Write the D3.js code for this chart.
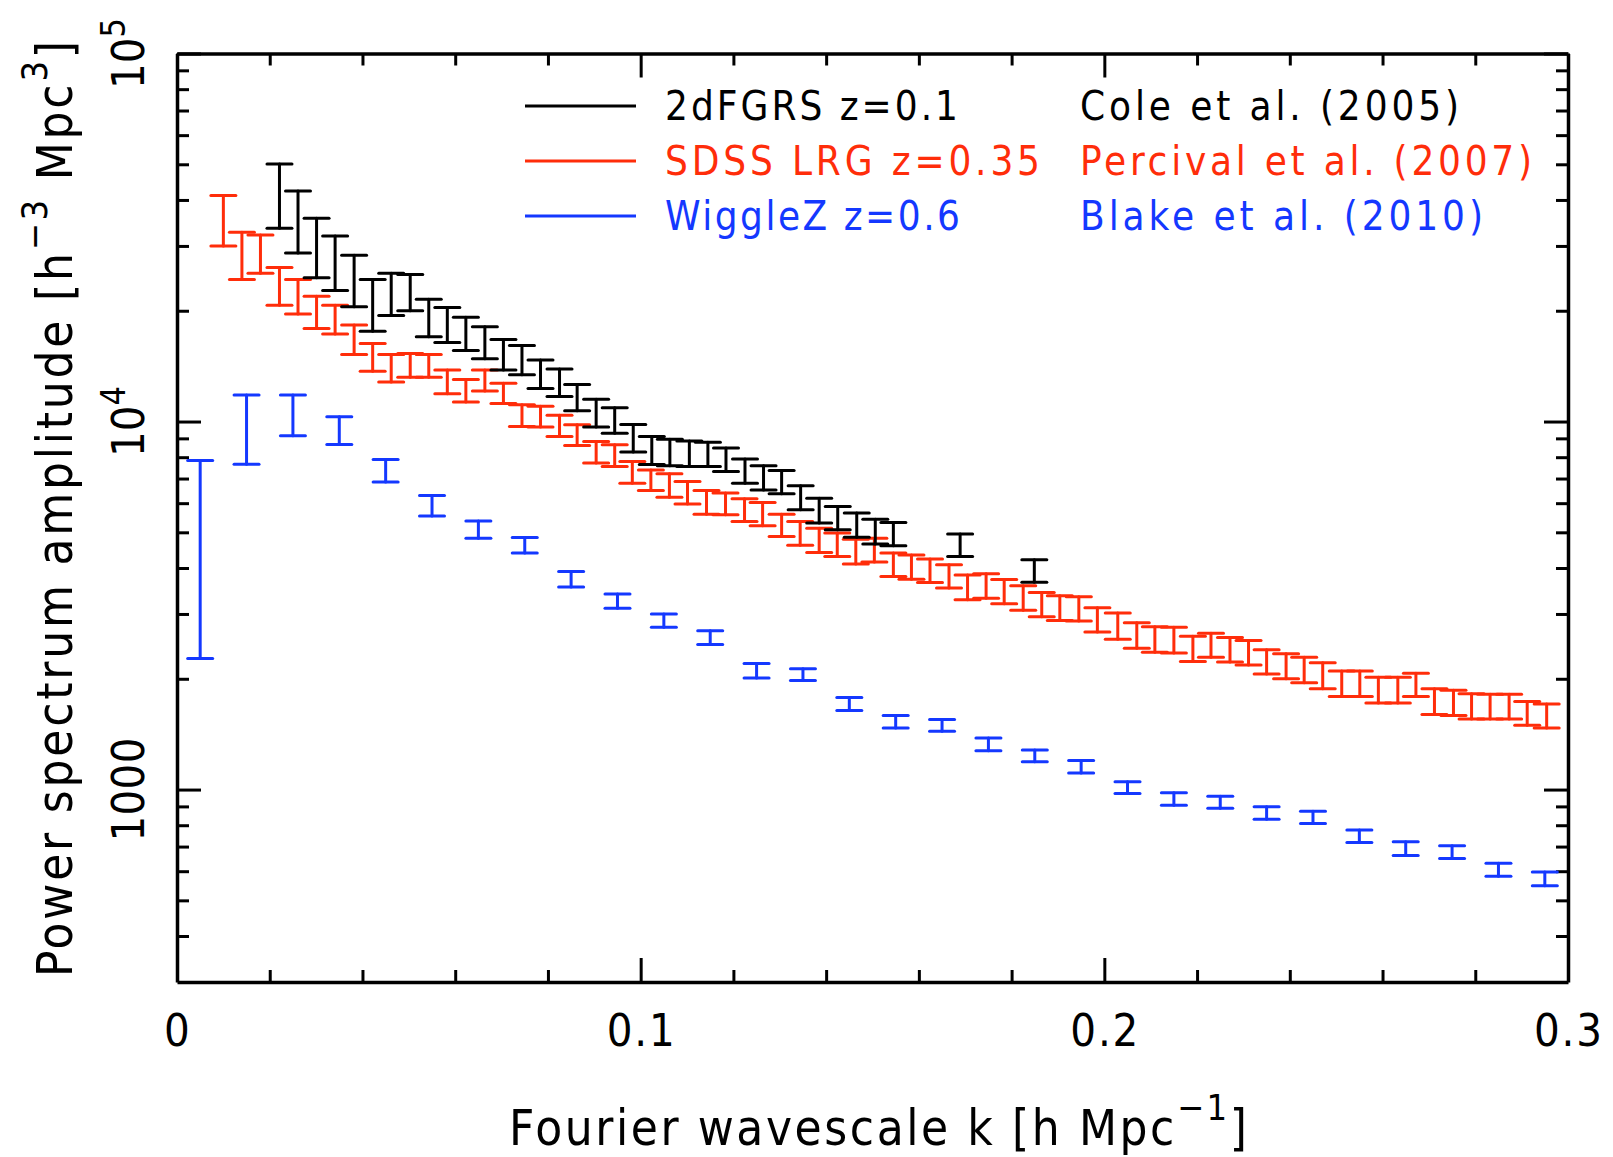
<!DOCTYPE html>
<html>
<head>
<meta charset="utf-8">
<script src="https://cdn.jsdelivr.net/npm/d3@7"></script>
<style>
  body { margin: 0; background: #fff; }
  text { font-family: "DejaVu Sans Condensed", "Liberation Sans Narrow", "DejaVu Sans", sans-serif; }
</style>
</head>
<body>
<svg id="chart" width="1613" height="1157"></svg>
<script>
'use strict';

// 2dFGRS z=0.1 (Cole et al. 2005)
var coleK  = [0.0221,0.0261,0.0301,0.0341,0.0382,0.0422,0.0462,0.0503,0.0543,0.0583,0.0623,0.0664,0.0704,0.0744,0.0784,0.0825,0.0863,0.0904,0.0944,0.0984,0.1024,0.1063,0.1105,0.1145,0.1184,0.1225,0.1265,0.1304,0.1345,0.1385,0.1425,0.1466,0.1506,0.1545,0.1689,0.1849];
var coleHi = [50100,42300,35700,31900,28300,24300,25300,25100,21500,20400,19200,18100,16700,16100,14700,13900,12600,11500,10900,9810,9110,8950,8860,8790,8470,7910,7580,7360,6690,6190,5880,5640,5430,5320,4950,4210];
var coleLo = [33500,28700,24600,22700,20500,17600,19400,20000,17000,16400,15600,14800,13800,13400,12300,11700,10700,9660,9300,8270,7640,7580,7550,7550,7310,6800,6520,6360,5760,5300,5080,4850,4650,4600,4300,3660];

// SDSS LRG z=0.35 (Percival et al. 2007)
var percK  = [0.0100,0.0140,0.0180,0.0221,0.0261,0.0301,0.0341,0.0382,0.0422,0.0462,0.0503,0.0543,0.0583,0.0623,0.0664,0.0704,0.0744,0.0784,0.0825,0.0863,0.0904,0.0944,0.0982,0.1022,0.1062,0.1101,0.1142,0.1183,0.1224,0.1263,0.1304,0.1344,0.1385,0.1424,0.1464,0.1504,0.1545,0.1584,0.1624,0.1665,0.1705,0.1745,0.1784,0.1825,0.1865,0.1904,0.1945,0.1985,0.2029,0.2070,0.2109,0.2150,0.2191,0.2230,0.2271,0.2311,0.2350,0.2392,0.2431,0.2471,0.2512,0.2551,0.2591,0.2633,0.2672,0.2712,0.2753,0.2792,0.2832,0.2873,0.2912,0.2954];
var percHi = [41100,32700,32100,26200,24300,21900,20700,18300,16300,15200,15300,15200,13800,13000,13800,12700,11100,11000,10400,9800,8820,8650,7790,7390,7210,6870,6500,6390,6170,6030,5600,5350,5130,4980,4790,4820,4390,4340,4230,4080,3830,3860,3720,3580,3430,3360,3340,3120,3020,2840,2770,2760,2610,2660,2590,2540,2400,2340,2290,2210,2100,2100,2020,2020,2070,1880,1860,1820,1815,1815,1736,1708];
var percLo = [30000,24300,25300,20700,19600,17900,17300,15200,13700,12800,13200,13200,11900,11300,12100,11200,9690,9660,9110,8610,7710,7550,6800,6500,6230,5970,5600,5580,5350,5210,4870,4610,4410,4300,4100,4150,3790,3730,3650,3530,3280,3310,3200,3070,2950,2880,2870,2680,2560,2420,2360,2350,2230,2290,2220,2180,2060,2000,1950,1880,1790,1790,1720,1720,1790,1600,1590,1555,1555,1555,1495,1470];

// WiggleZ z=0.6 (Blake et al. 2010)
var blakeK  = [0.005,0.015,0.025,0.035,0.045,0.055,0.065,0.075,0.085,0.095,0.105,0.115,0.125,0.135,0.145,0.155,0.165,0.175,0.185,0.195,0.205,0.215,0.225,0.235,0.245,0.255,0.265,0.275,0.285,0.295];
var blakeHi = [7840,11800,11800,10300,7880,6300,5370,4840,3910,3400,3000,2700,2200,2130,1780,1590,1550,1380,1280,1200,1050,981,959,898,873,776,722,704,631,597];
var blakeLo = [2270,7650,9150,8660,6850,5540,4820,4390,3550,3110,2760,2480,2010,1980,1640,1470,1440,1275,1190,1110,975,907,890,831,809,718,662,650,581,548];

var surveys = ["2dFGRS z=0.1", "SDSS LRG z=0.35", "WiggleZ z=0.6"];
var papers  = ["Cole et al. (2005)", "Percival et al. (2007)", "Blake et al. (2010)"];
var colors  = ["#000000", "#ff2d0a", "#1438ff"];

var xMajor = [0, 0.1, 0.2, 0.3];
var xMinor = [0.02, 0.04, 0.06, 0.08, 0.12, 0.14, 0.16, 0.18, 0.22, 0.24, 0.26, 0.28];
var yMajor = [1000, 10000, 100000];
var yMinor = [400, 500, 600, 700, 800, 900, 2000, 3000, 4000, 5000, 6000, 7000, 8000, 9000,
              20000, 30000, 40000, 50000, 60000, 70000, 80000, 90000];
var yLabels = [["1000", ""], ["10", "4"], ["10", "5"]];

// widths of the (wide, stroke-font) original texts
var surveyWidth = [293, 375, 295];
var paperWidth  = [379, 452, 403];

var box = {left: 177, right: 1568, top: 53.5, bottom: 982};
var svg = d3.select("#chart");

var x = d3.scaleLinear().domain([0, 0.3]).range([box.left, box.right]);
var y = d3.scaleLog().domain([300, 1e5]).range([box.bottom, box.top]);

// frame with inward ticks on all four sides
function side(axisFn, scale, transform, values, size, keepDomain) {
  var g = svg.append("g").attr("transform", transform)
    .call(axisFn(scale).tickValues(values).tickSize(size).tickSizeOuter(0).tickFormat(""));
  g.selectAll(".tick line").attr("stroke-width", 3);
  if (keepDomain) g.select(".domain").attr("stroke-width", 3.5);
  else g.select(".domain").remove();
}
side(d3.axisBottom, x, `translate(0,${box.bottom})`, xMajor, -24, true);
side(d3.axisBottom, x, `translate(0,${box.bottom})`, xMinor, -12, false);
side(d3.axisTop, x, `translate(0,${box.top})`, xMajor, -24, true);
side(d3.axisTop, x, `translate(0,${box.top})`, xMinor, -12, false);
side(d3.axisLeft, y, `translate(${box.left},0)`, yMajor, -24, true);
side(d3.axisLeft, y, `translate(${box.left},0)`, yMinor, -12, false);
side(d3.axisRight, y, `translate(${box.right},0)`, yMajor, -24, true);
side(d3.axisRight, y, `translate(${box.right},0)`, yMinor, -12, false);

// tick labels
svg.append("g").selectAll("text").data(xMajor).join("text")
  .attr("x", d => x(d)).attr("y", 1046)
  .attr("text-anchor", "middle").attr("font-size", 45)
  .attr("textLength", d => d === 0 ? null : 68)
  .attr("lengthAdjust", "spacing")
  .text(d => d === 0 ? "0" : String(d));

var yl = svg.append("g").selectAll("text").data(yMajor).join("text")
  .attr("transform", d => `translate(144,${y(d)}) rotate(-90)`)
  .attr("text-anchor", "middle").attr("font-size", 45)
  .attr("textLength", (d, i) => yLabels[i][1] ? null : 104)
  .attr("lengthAdjust", "spacing");
yl.append("tspan").text((d, i) => yLabels[i][0]);
yl.filter((d, i) => yLabels[i][1] !== "")
  .append("tspan").attr("font-size", 34).attr("dy", "-0.55em").text(d => yLabels[yMajor.indexOf(d)][1]);

// axis titles
var xt = svg.append("text").attr("x", 878).attr("y", 1145)
  .attr("text-anchor", "middle").attr("font-size", 49)
  .attr("textLength", 738).attr("lengthAdjust", "spacing");
xt.append("tspan").text("Fourier wavescale k [h Mpc");
xt.append("tspan").attr("font-size", 36).attr("dy", -25).text("\u22121");
xt.append("tspan").attr("dy", 25).text("]");

var yt = svg.append("text").attr("transform", "translate(72,509) rotate(-90)")
  .attr("text-anchor", "middle").attr("font-size", 49)
  .attr("textLength", 936).attr("lengthAdjust", "spacing");
yt.append("tspan").text("Power spectrum amplitude [h");
yt.append("tspan").attr("font-size", 36).attr("dy", -25).text("\u22123");
yt.append("tspan").attr("dy", 25).text(" Mpc");
yt.append("tspan").attr("font-size", 36).attr("dy", -25).text("3");
yt.append("tspan").attr("dy", 25).text("]");

// error bars
function errorBars(k, lo, hi, color) {
  var g = svg.append("g").attr("stroke", color).attr("stroke-width", 3).attr("stroke-linecap", "round");
  var bars = g.selectAll("g").data(k.map((d, i) => ({k: d, lo: lo[i], hi: hi[i]}))).join("g");
  bars.append("line")
    .attr("x1", d => x(d.k)).attr("x2", d => x(d.k))
    .attr("y1", d => y(d.lo)).attr("y2", d => y(d.hi));
  bars.append("line")
    .attr("x1", d => x(d.k) - 12.5).attr("x2", d => x(d.k) + 12.5)
    .attr("y1", d => y(d.lo)).attr("y2", d => y(d.lo));
  bars.append("line")
    .attr("x1", d => x(d.k) - 12.5).attr("x2", d => x(d.k) + 12.5)
    .attr("y1", d => y(d.hi)).attr("y2", d => y(d.hi));
}
errorBars(blakeK, blakeLo, blakeHi, colors[2]);
errorBars(percK, percLo, percHi, colors[1]);
errorBars(coleK, coleLo, coleHi, colors[0]);

// legend
var rows = svg.append("g").selectAll("g").data(surveys).join("g")
  .attr("transform", (d, i) => `translate(0,${106 + i * 55})`);
rows.append("line").attr("x1", 525).attr("x2", 636)
  .attr("stroke", (d, i) => colors[i]).attr("stroke-width", 3);
rows.append("text").attr("x", 665).attr("y", 13.5).attr("font-size", 40)
  .attr("fill", (d, i) => colors[i])
  .attr("textLength", (d, i) => surveyWidth[i]).attr("lengthAdjust", "spacing")
  .text(d => d);
rows.append("text").attr("x", 1080).attr("y", 13.5).attr("font-size", 40)
  .attr("fill", (d, i) => colors[i])
  .attr("textLength", (d, i) => paperWidth[i]).attr("lengthAdjust", "spacing")
  .text((d, i) => papers[i]);
</script>
</body>
</html>
